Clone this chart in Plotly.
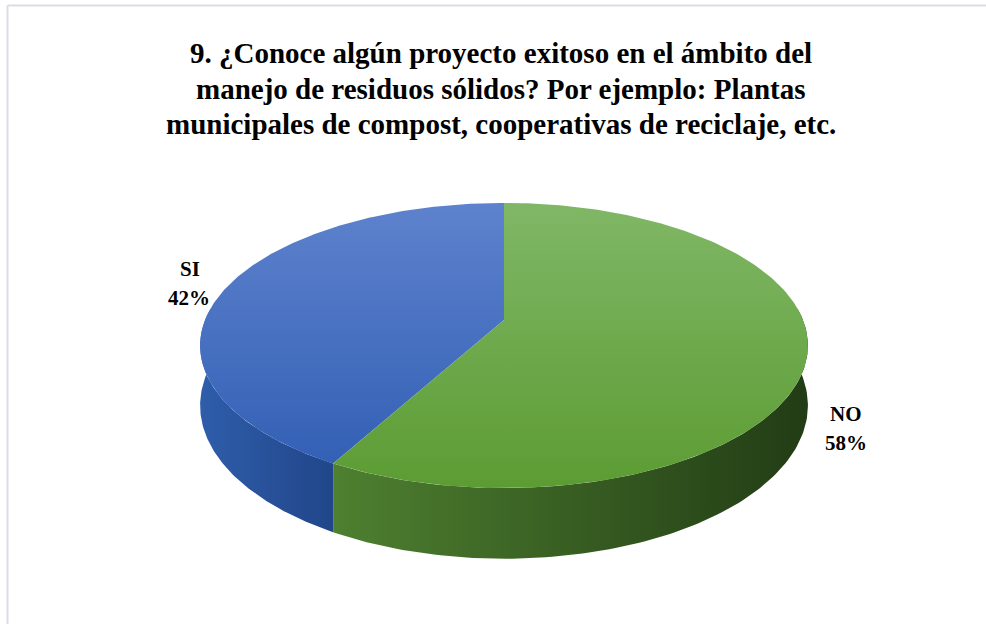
import numpy as np
import plotly.graph_objects as go

# ---- data ----
categories = ["SI", "NO"]
values = [42, 58]
title_lines = [
    "9. ¿Conoce algún proyecto exitoso en el ámbito del",
    "manejo de residuos sólidos? Por ejemplo: Plantas",
    "municipales de compost, cooperativas de reciclaje, etc.",
]

# ---- styles / layout ----
top_colors = {"SI": ["#5E82CD", "#2F5DB3"], "NO": ["#80B766", "#5C9C33"]}
side_colors = {"SI": ["#2F5DAA", "#21468A"], "NO": ["#4E8030", "#223C15"]}
SERIF = "Liberation Serif"
TITLE_X, TITLE_Y0, TITLE_GAP = 501, 53, 35.5
LABEL_SIZE, LABEL_GAP = 21, 29
# Times-bold advance widths (em) for label glyphs
GLYPH_EM = {"S": 0.556, "I": 0.389, "N": 0.722, "O": 0.778, "%": 1.0}

W, H = 986, 624
CX, CY0 = 504, 320          # projected pie centre (pixels)
A, B, K = 299, 138, 0.179   # horizontal radius, vertical radius, perspective factor
D = 58                      # pie thickness


def proj(phi_deg, r=1.0, drop=0.0):
    phi = np.radians(phi_deg)
    u = r * np.cos(phi)
    v = r * np.sin(phi)
    den = 1 + K * v
    return CX + A * u / den, CY0 - B * v / den + D * drop / den


def text_width(s, size):
    return size * sum(GLYPH_EM.get(ch, 0.5) for ch in s)


total = sum(values)
fig = go.Figure()

# slice angular ranges (counter-clockwise from 12 o'clock)
ranges = []
start = 90.0
for cat, val in zip(categories, values):
    span = 360.0 * val / total
    ranges.append((cat, val, start, start + span))
    start += span

# sides (front part only)
for cat, val, a0, a1 in ranges:
    lo, hi = max(a0, 175.0), min(a1, 365.0)
    if hi <= lo:
        continue
    ph = np.linspace(lo, hi, 120)
    xt, yt = proj(ph)
    xb, yb = proj(ph[::-1], drop=1.0)
    xs = np.concatenate([xt, xb, xt[:1]])
    ys = np.concatenate([yt, yb, yt[:1]])
    c0, c1 = side_colors[cat]
    fig.add_trace(go.Scatter(
        x=xs, y=ys, mode="lines", line=dict(width=0), fill="toself",
        fillgradient=dict(type="horizontal", colorscale=[[0, c0], [1, c1]],
                          start=float(xs.min()), stop=float(xs.max())),
        hoverinfo="skip", showlegend=False))

# top faces
for cat, val, a0, a1 in ranges:
    ph = np.linspace(a0, a1, 200)
    xt, yt = proj(ph)
    xc, yc = proj(0, r=0.0)
    xs = np.concatenate([[xc], xt, [xc]])
    ys = np.concatenate([[yc], yt, [yc]])
    c0, c1 = top_colors[cat]
    ytop, ybot = proj(90)[1], proj(270)[1]
    fig.add_trace(go.Scatter(
        x=xs, y=ys, mode="lines", line=dict(width=0), fill="toself",
        fillgradient=dict(type="vertical", colorscale=[[0, c0], [1, c1]],
                          start=float(ytop), stop=float(ybot)),
        hoverinfo="skip", showlegend=False, name=cat))

# labels (one left-anchored annotation per line, centred by estimated width)
for cat, val, a0, a1 in ranges:
    mid = (a0 + a1) / 2
    front = np.sin(np.radians(mid)) < 0
    lx, ly = proj(mid, r=1.13, drop=1.1 if front else 0.0)
    lx -= 5
    for j, line in enumerate([cat, f"{round(100 * val / total)}%"]):
        fig.add_annotation(
            x=float(lx - text_width(line, LABEL_SIZE) / 2), y=float(ly) + (j - 0.5) * LABEL_GAP,
            text=f"<b>{line}</b>", showarrow=False, xanchor="left", yanchor="middle",
            font=dict(family=SERIF, size=LABEL_SIZE, color="#000000"))

# title (one centred annotation per line)
for i, line in enumerate(title_lines):
    fig.add_annotation(
        x=TITLE_X, y=TITLE_Y0 + i * TITLE_GAP, text=f"<b>{line}</b>", showarrow=False,
        xanchor="center", yanchor="middle",
        font=dict(family=SERIF, size=29, color="#000000"))

# chart border
fig.add_shape(type="line", x0=7.5, x1=W, y0=5.5, y1=5.5, line=dict(color="#D9DEE4", width=2))
fig.add_shape(type="line", x0=7.5, x1=7.5, y0=5.5, y1=H, line=dict(color="#D9DEE4", width=2))

fig.update_layout(
    width=W, height=H, autosize=False,
    margin=dict(l=0, r=0, t=0, b=0),
    paper_bgcolor="#FFFFFF", plot_bgcolor="#FFFFFF",
    xaxis=dict(range=[0, W], visible=False, fixedrange=True),
    yaxis=dict(range=[H, 0], visible=False, fixedrange=True),
    showlegend=False,
)

fig.write_html("out.html", config={"displayModeBar": False},
               post_script="document.body.style.margin='0';document.body.style.overflow='hidden';")
